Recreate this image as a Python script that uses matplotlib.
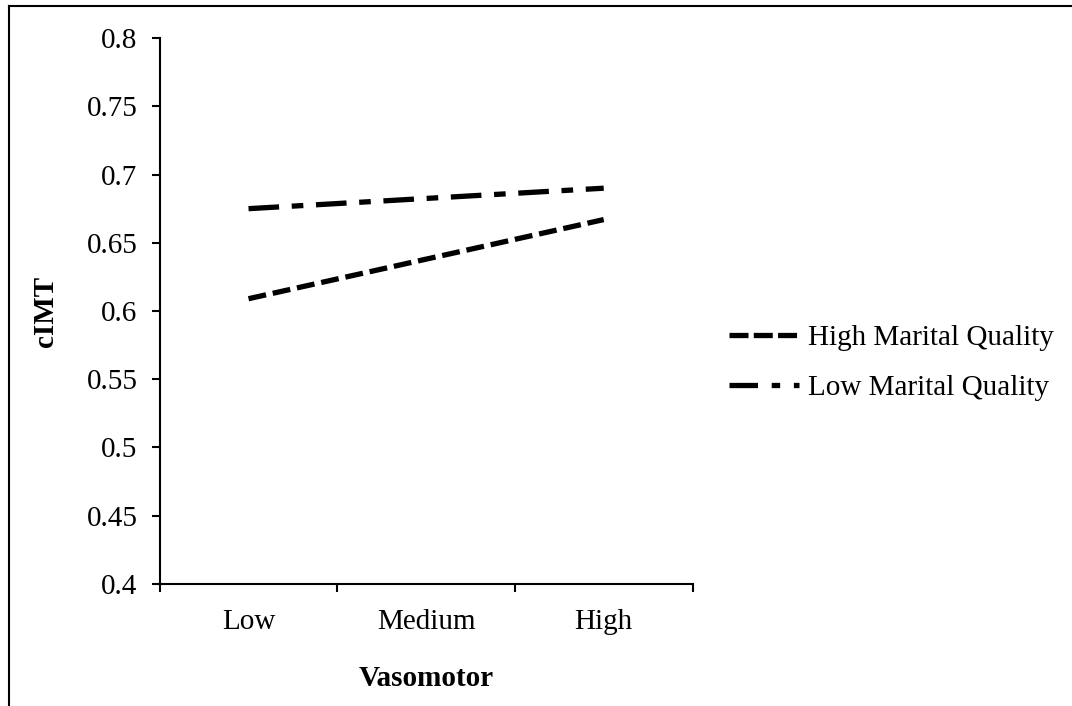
import matplotlib.pyplot as plt
from matplotlib.lines import Line2D

CATEGORIES = ["Low", "Medium", "High"]
HIGH_QUALITY = [0.609, 0.638, 0.667]
LOW_QUALITY = [0.675, 0.6825, 0.690]
Y_TICKS = [0.4, 0.45, 0.5, 0.55, 0.6, 0.65, 0.7, 0.75, 0.8]
Y_TICK_LABELS = ["0.4", "0.45", "0.5", "0.55", "0.6", "0.65", "0.7", "0.75", "0.8"]

plt.rcParams['font.family'] = ['Liberation Serif', 'DejaVu Serif']
FS = 21

fig = plt.figure(figsize=(10.72, 7.06), dpi=100)
ax = fig.add_axes([0.149, 0.173, 0.497, 0.773])

x = list(range(len(CATEGORIES)))
ax.plot(x, HIGH_QUALITY, color="black", lw=3.8, dashes=(3.4, 1.3),
        dash_capstyle="butt", label="High Marital Quality")
ax.plot(x, LOW_QUALITY, color="black", lw=3.8, dashes=(5.8, 2.4, 2.2, 2.4),
        dash_capstyle="butt", label="Low Marital Quality")

ax.set_xlim(-0.5, 2.5)
ax.set_ylim(0.4, 0.8)
ax.set_yticks(Y_TICKS)
ax.set_yticklabels(Y_TICK_LABELS)

# category axis: tick marks between the categories, labels in the middle
ax.set_xticks([-0.5, 0.5, 1.5, 2.5])
ax.set_xticklabels([])
ax.set_xticks(x, minor=True)
ax.set_xticklabels(CATEGORIES, minor=True)
ax.tick_params(axis="x", which="major", length=6, width=1.5, direction="out")
ax.tick_params(axis="x", which="minor", length=0, pad=18, labelsize=FS)
ax.tick_params(axis="y", length=6, width=1.5, direction="out", pad=10, labelsize=FS)

for side in ["top", "right"]:
    ax.spines[side].set_visible(False)
for side in ["left", "bottom"]:
    ax.spines[side].set_linewidth(1.5)

ax.set_xlabel("Vasomotor", fontsize=FS, fontweight="bold", labelpad=22)
ax.set_ylabel("cIMT", fontsize=FS, fontweight="bold", labelpad=20)

leg = ax.legend(loc="center left", bbox_to_anchor=(1.02, 0.405), frameon=False,
                fontsize=FS, handlelength=2.4, handletextpad=0.3, labelspacing=0.8)
# legend keys use a slightly shorter dash pattern so the whole pattern fits
leg_lines = leg.get_lines()
leg_lines[0].set_dashes((3.6, 1.0))
leg_lines[1].set_dashes((5.4, 2.6, 1.6, 2.6))

# outer frame (top and left edges visible)
fig.add_artist(Line2D([0.0085, 1.0], [0.991, 0.991], color="black", lw=1.5))
fig.add_artist(Line2D([0.0085, 0.0085], [0.0, 0.991], color="black", lw=1.5))

fig.savefig("out.png", dpi=100)
